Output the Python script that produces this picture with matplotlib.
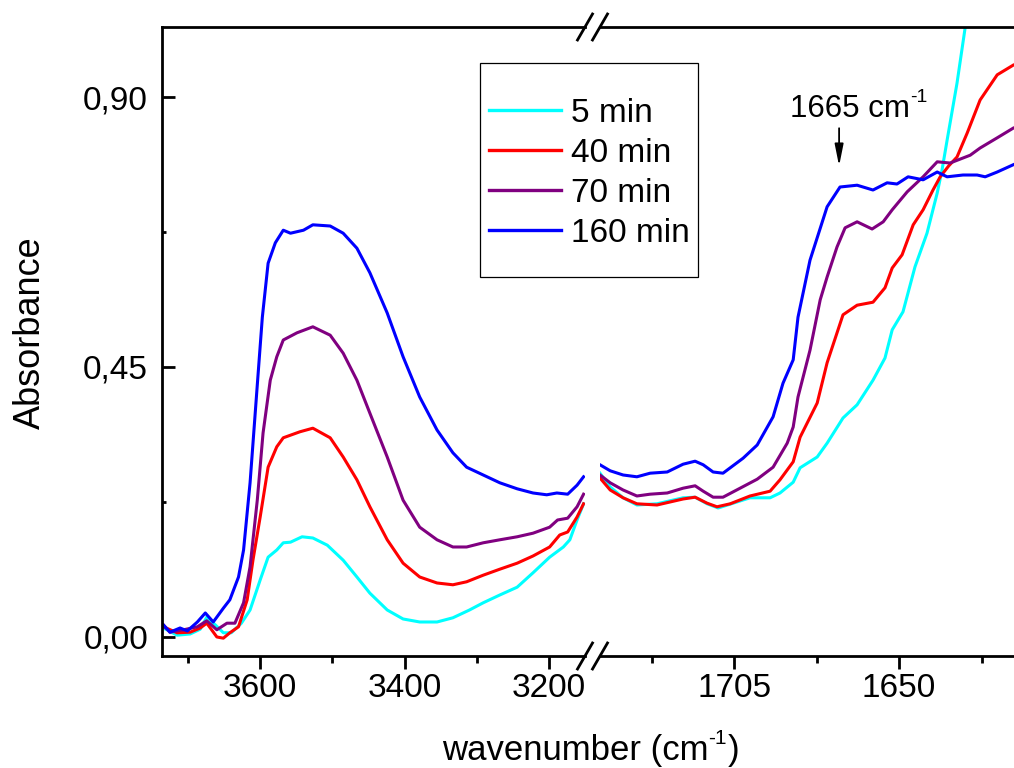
import matplotlib
matplotlib.use("Agg")
import matplotlib.pyplot as plt
from matplotlib.lines import Line2D
from matplotlib.patches import Rectangle
from matplotlib.ticker import FixedLocator

plt.rcParams['font.family'] = ['Liberation Sans', 'DejaVu Sans']

# ---- data ----
labels = ['5 min', '40 min', '70 min', '160 min']
colors = ['#00FFFF', '#FF0000', '#800080', '#0000FF']

# O-H region (left panel)
wn_l_5 = [3734, 3715, 3697, 3683, 3674, 3662, 3651, 3640, 3626, 3614, 3600, 3589, 3577, 3568, 3558,
          3542, 3527, 3507, 3485, 3466, 3448, 3424, 3402, 3379, 3355, 3333, 3310, 3291, 3268, 3244,
          3222, 3199, 3180, 3171, 3161, 3152]
ab_l_5 = [0.015, 0.003, 0.005, 0.013, 0.033, 0.020, 0.007, 0.007, 0.023, 0.045, 0.095, 0.133, 0.145,
          0.157, 0.158, 0.167, 0.165, 0.153, 0.128, 0.100, 0.073, 0.045, 0.030, 0.025, 0.025, 0.032,
          0.045, 0.057, 0.070, 0.083, 0.107, 0.133, 0.150, 0.162, 0.195, 0.222]

wn_l_40 = [3734, 3715, 3697, 3683, 3674, 3660, 3651, 3642, 3630, 3618, 3610, 3600, 3589, 3577, 3568,
           3545, 3527, 3503, 3485, 3466, 3448, 3424, 3402, 3379, 3355, 3333, 3314, 3291, 3268, 3244,
           3222, 3199, 3185, 3174, 3161, 3152]
ab_l_40 = [0.017, 0.007, 0.008, 0.015, 0.023, 0.000, -0.002, 0.007, 0.017, 0.062, 0.128, 0.200, 0.283,
           0.317, 0.332, 0.342, 0.348, 0.332, 0.300, 0.262, 0.217, 0.162, 0.123, 0.100, 0.090, 0.087,
           0.092, 0.103, 0.113, 0.123, 0.135, 0.150, 0.170, 0.175, 0.200, 0.222]

wn_l_70 = [3734, 3725, 3706, 3687, 3674, 3660, 3646, 3635, 3623, 3614, 3604, 3596, 3586, 3577, 3568,
           3549, 3527, 3503, 3485, 3466, 3448, 3424, 3402, 3379, 3355, 3333, 3314, 3291, 3268, 3244,
           3222, 3199, 3188, 3174, 3161, 3152]
ab_l_70 = [0.020, 0.008, 0.012, 0.017, 0.027, 0.012, 0.023, 0.023, 0.057, 0.117, 0.228, 0.340, 0.428,
           0.467, 0.495, 0.507, 0.517, 0.503, 0.473, 0.428, 0.373, 0.300, 0.228, 0.183, 0.162, 0.150,
           0.150, 0.157, 0.162, 0.167, 0.173, 0.183, 0.195, 0.198, 0.217, 0.238]

wn_l_160 = [3734, 3725, 3711, 3701, 3687, 3676, 3665, 3651, 3642, 3630, 3623, 3614, 3604, 3597, 3589,
            3579, 3568, 3558, 3540, 3527, 3503, 3485, 3466, 3448, 3424, 3402, 3379, 3355, 3333, 3314,
            3291, 3268, 3244, 3222, 3203, 3189, 3174, 3161, 3152]
ab_l_160 = [0.020, 0.008, 0.015, 0.010, 0.025, 0.040, 0.025, 0.048, 0.062, 0.100, 0.145, 0.257, 0.420,
            0.533, 0.623, 0.657, 0.678, 0.673, 0.678, 0.687, 0.685, 0.673, 0.648, 0.607, 0.540, 0.467,
            0.400, 0.345, 0.307, 0.283, 0.270, 0.257, 0.247, 0.240, 0.237, 0.240, 0.238, 0.253, 0.267]

# amide I region (right panel)
wn_r_5 = [1749.7, 1746.3, 1742, 1737.4, 1730.7, 1722, 1718, 1714, 1710.3, 1705.3, 1699.7, 1693, 1689.7,
          1685.3, 1683, 1677.3, 1674, 1668.7, 1664, 1658.7, 1654.7, 1652.3, 1648.7, 1644.7, 1640.7,
          1637.3, 1635.7, 1634, 1630.7, 1628, 1627.3]
ab_r_5 = [0.273, 0.250, 0.232, 0.220, 0.222, 0.232, 0.233, 0.222, 0.215, 0.223, 0.232, 0.232, 0.240,
          0.258, 0.282, 0.300, 0.323, 0.365, 0.387, 0.428, 0.465, 0.512, 0.542, 0.617, 0.673, 0.740,
          0.778, 0.828, 0.923, 1.015, 1.035]

wn_r_40 = [1749.7, 1746.3, 1742, 1737.4, 1730.7, 1722, 1718, 1714, 1710.7, 1706.3, 1699.7, 1693, 1689.7,
           1685.3, 1683, 1677.3, 1674, 1668.7, 1664, 1658.7, 1654.7, 1652.3, 1649, 1645.3, 1642, 1638.7,
           1636.3, 1633.5, 1630.7, 1627.3, 1623, 1617.3, 1612]
ab_r_40 = [0.265, 0.245, 0.232, 0.222, 0.220, 0.230, 0.233, 0.223, 0.217, 0.222, 0.235, 0.243, 0.262,
           0.292, 0.333, 0.390, 0.457, 0.537, 0.553, 0.558, 0.582, 0.615, 0.637, 0.687, 0.712, 0.745,
           0.767, 0.785, 0.800, 0.840, 0.895, 0.937, 0.953]

wn_r_70 = [1749.7, 1746.3, 1742, 1737.4, 1733, 1727.3, 1722, 1718, 1715.3, 1712, 1708.7, 1703, 1697.3,
           1692, 1687.3, 1685.3, 1683.7, 1679.7, 1676.3, 1674, 1670.7, 1668, 1664, 1659, 1655.3, 1652.3,
           1647.3, 1642, 1637.3, 1633, 1626.3, 1623, 1617.3, 1612]
ab_r_70 = [0.270, 0.257, 0.245, 0.235, 0.238, 0.240, 0.248, 0.252, 0.243, 0.233, 0.233, 0.248, 0.263,
           0.283, 0.323, 0.350, 0.400, 0.478, 0.562, 0.600, 0.650, 0.682, 0.692, 0.680, 0.692, 0.712,
           0.742, 0.767, 0.792, 0.790, 0.803, 0.815, 0.832, 0.848]

wn_r_160 = [1749.7, 1746.3, 1742, 1737.4, 1733, 1727.3, 1722, 1718, 1715.3, 1712, 1708.7, 1702, 1697.3,
            1692, 1688.7, 1685.3, 1683.7, 1679.7, 1674, 1669.7, 1664, 1658.7, 1654, 1650.7, 1647, 1642,
            1637.3, 1634, 1628.7, 1624, 1621.3, 1617.3, 1612]
ab_r_160 = [0.287, 0.277, 0.270, 0.267, 0.273, 0.275, 0.288, 0.293, 0.287, 0.275, 0.273, 0.298, 0.320,
            0.367, 0.423, 0.462, 0.533, 0.628, 0.717, 0.750, 0.753, 0.745, 0.757, 0.755, 0.767, 0.762,
            0.775, 0.767, 0.770, 0.770, 0.767, 0.775, 0.787]

yticks = [0.0, 0.45, 0.90]
yticklabels = ['0,00', '0,45', '0,90']
xticks_l = [3600, 3400, 3200]
xticks_r = [1705, 1650]

W, H = 1014, 768
fig = plt.figure(figsize=(W / 100, H / 100), dpi=100)

def fx(px):
    return px / W

def fy(py):
    return 1 - py / H

ax_l = fig.add_axes([fx(162), fy(656), fx(585) - fx(162), fy(27) - fy(656)])
ax_r = fig.add_axes([fx(600), fy(656), 1 - fx(600), fy(27) - fy(656)])

left_sets = [(wn_l_5, ab_l_5), (wn_l_40, ab_l_40), (wn_l_70, ab_l_70), (wn_l_160, ab_l_160)]
right_sets = [(wn_r_5, ab_r_5), (wn_r_40, ab_r_40), (wn_r_70, ab_r_70), (wn_r_160, ab_r_160)]

lw = 2.2
for (x, y), c in zip(left_sets, colors):
    ax_l.plot(x, y, color=c, lw=lw)
for (x, y), c in zip(right_sets, colors):
    ax_r.plot(x, y, color=c, lw=lw)

ylim = (-0.0317, 1.0167)
ax_l.set_xlim(3736, 3150)
ax_r.set_xlim(1749.7, 1611.7)
for ax in (ax_l, ax_r):
    ax.set_ylim(*ylim)
    for s in ax.spines.values():
        s.set_linewidth(2.0)

ax_l.spines['right'].set_visible(False)
ax_r.spines['left'].set_visible(False)
ax_r.spines['right'].set_visible(False)

ax_l.set_xticks(xticks_l)
ax_l.xaxis.set_minor_locator(FixedLocator([3700, 3500, 3300]))
ax_r.set_xticks(xticks_r)
ax_r.xaxis.set_minor_locator(FixedLocator([1732.5, 1677.5, 1622.5]))
ax_l.set_yticks(yticks)
ax_l.set_yticklabels(yticklabels)
ax_l.yaxis.set_minor_locator(FixedLocator([0.225, 0.675]))
ax_r.set_yticks([])

for ax in (ax_l, ax_r):
    ax.tick_params(axis='x', which='major', direction='out', length=9.5, width=2.0,
                   labelsize=24, pad=3, top=False)
    ax.tick_params(axis='x', which='minor', direction='out', length=5, width=2.0, top=False)
ax_l.tick_params(axis='y', which='major', direction='in', length=9.5, width=2.0,
                 labelsize=24, pad=10, right=False)
ax_l.tick_params(axis='y', which='minor', direction='in', length=3, width=2.0, right=False)

# axis break marks
def slash(cx, cy):
    fig.add_artist(Line2D([fx(cx - 7.5), fx(cx + 7.5)], [fy(cy + 13), fy(cy - 13)],
                          color='black', lw=2.0, transform=fig.transFigure))

for cx in (585, 600):
    slash(cx, 656)
    slash(cx, 27)

# x label with a raised "-1"
xl = fig.text(fx(442), fy(760), 'wavenumber (cm', ha='left', va='baseline', fontsize=25)
xl_sup = plt.annotate('-1', xy=(1, 1), xycoords=xl, xytext=(0, 3.5), textcoords='offset points',
                      ha='left', va='top', fontsize=15, annotation_clip=False)
plt.annotate(')', xy=(1, 0), xycoords=(xl_sup, xl), xytext=(0.5, 0), textcoords='offset points',
             ha='left', va='bottom', fontsize=25, annotation_clip=False)

fig.text(fx(30), fy(333), 'Absorbance', ha='center', va='center', rotation=90, fontsize=26)

# annotation
ann = ax_r.text(1686.3, 0.867, '1665 cm', ha='left', va='baseline', fontsize=22.5)
ax_r.annotate('-1', xy=(1, 1), xycoords=ann, xytext=(0, 3.5), textcoords='offset points',
              ha='left', va='top', fontsize=14)
ax_r.annotate('', xy=(1670, 0.785), xytext=(1670, 0.848),
              arrowprops=dict(arrowstyle='-|>,head_length=0.65,head_width=0.13',
                              color='black', lw=1.3, shrinkA=0, shrinkB=0, mutation_scale=20))

# legend
handles = [Line2D([], [], color=c, lw=2.4) for c in colors]
fig.legend(handles, labels, loc='upper left', bbox_to_anchor=(fx(489), fy(98)),
           frameon=False, fontsize=24, handlelength=2.15, handletextpad=0.3,
           borderpad=0, borderaxespad=0, labelspacing=0.27)
fig.add_artist(Rectangle((fx(480), fy(277)), fx(698) - fx(480), fy(63) - fy(277),
                         transform=fig.transFigure, fill=False, edgecolor='black', lw=0.9))

fig.savefig('out.png', dpi=100)
